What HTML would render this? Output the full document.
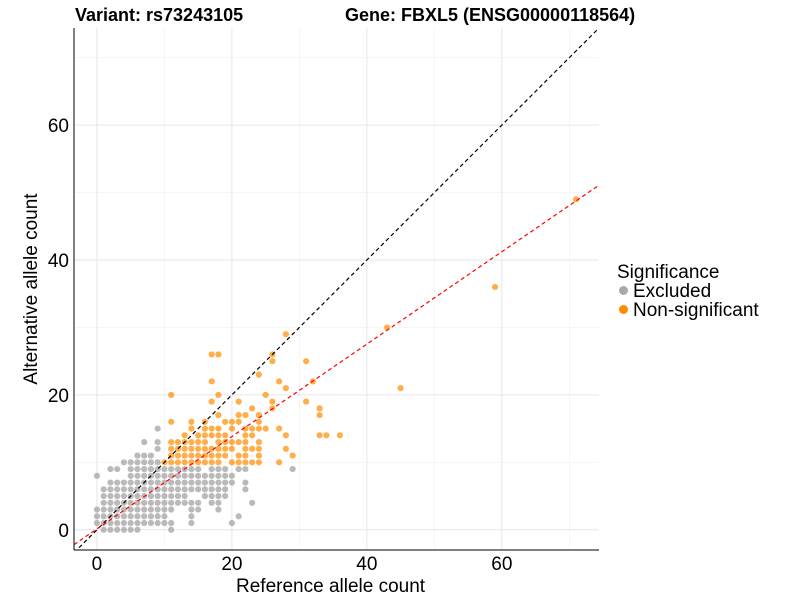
<!DOCTYPE html>
<html><head><meta charset="utf-8"><style>
body{margin:0;background:#fff;font-family:"Liberation Sans",sans-serif}
svg{display:block}
</style></head><body>
<svg id="c" width="800" height="600"></svg>
<script>
const xTicks=[0,20,40,60];
const yTicks=[0,20,40,60];
const minorTicks=[10,30,50,70];
// gray (excluded) points: rows of [y, [x values]]
const grayRows=[
[0,[1,2,3,4,5,6,11]],
[1,[0,1,2,3,4,5,6,7,8,9,10,11,14,20]],
[2,[0,1,2,3,4,5,6,7,8,9,10,14,21]],
[3,[0,1,2,3,4,5,6,7,8,9,10,11,14,15,18]],
[4,[1,2,3,4,5,6,7,8,9,10,11,12,13,14,15,17,18,23]],
[5,[1,2,3,4,5,6,7,8,9,10,11,12,13,16,17,18,19]],
[6,[1,2,3,4,5,6,7,8,9,10,11,12,13,14,15,16,17,18,19,22]],
[7,[2,3,4,5,6,7,8,9,10,11,12,13,14,15,16,17,18,19,20,22]],
[8,[0,5,6,7,8,9,10,11,12,13,14,15,16,17,18,19,20]],
[9,[2,3,5,6,7,8,9,10,11,12,13,14,15,17,18,19,21,22,29]],
[10,[4,5,6,7,8,9]],
[11,[6,7,8]],
[12,[9]],
[13,[7,9]],
[15,[9]]
];
// orange (non-significant) points
const orangeRows=[
[10,[10,11,12,13,14,15,16,17,18,20,21,22,23,24,27]],
[11,[11,12,13,14,15,16,17,18,19,21,22,24,29]],
[12,[11,12,13,14,15,16,17,18,19,20,22,23,24,28]],
[13,[11,12,13,14,15,16,18,19,20,21,22,24]],
[14,[13,15,16,17,18,19,22,23,28,33,34,36]],
[15,[14,16,17,18,20,22,23,24,25,27]],
[16,[11,14,16,19,20,21,24]],
[17,[18,21,22,24,33]],
[18,[23,26,33]],
[19,[17,21,26,31]],
[20,[11,18,25]],
[21,[28,45]],
[22,[17,27,32]],
[23,[24]],
[25,[26,31]],
[26,[17,18,26]],
[29,[28]],
[30,[43]],
[36,[59]],
[49,[71]]
];
const redSlope=0.685, redIntercept=0.13;
const L=74,R=599,T=28,B=550,x0=-3.4,x1=74.4,y0=-3.0,y1=74.4;
const sx=v=>L+(v-x0)/(x1-x0)*(R-L);
const sy=v=>B-(v-y0)/(y1-y0)*(B-T);
const svg=document.getElementById('c');const NS='http://www.w3.org/2000/svg';
function mk(t,a,p){const e=document.createElementNS(NS,t);for(const k in a)e.setAttribute(k,a[k]);(p||svg).appendChild(e);return e;}
const clip=mk('clipPath',{id:'cp'});mk('rect',{x:L,y:T,width:R-L,height:B-T},clip);
minorTicks.forEach(v=>{
 const g1=mk('line',{x1:sx(v),x2:sx(v),y1:T,y2:B,stroke:'#f0f0f0','stroke-width':0.6});
 
 const g2=mk('line',{x1:L,x2:R,y1:sy(v),y2:sy(v),stroke:'#f0f0f0','stroke-width':0.6});
 
});
xTicks.forEach(v=>{
 const g=mk('line',{x1:sx(v),x2:sx(v),y1:T,y2:B,stroke:'#e6e6e6','stroke-width':1});
 
 const t=mk('text',{x:sx(v),y:B+20,'font-size':19,'text-anchor':'middle',fill:'#000'});t.textContent=v;
 
});
yTicks.forEach(v=>{
 const g=mk('line',{x1:L,x2:R,y1:sy(v),y2:sy(v),stroke:'#e6e6e6','stroke-width':1});
 
 const t=mk('text',{x:L-5,y:sy(v)+7,'font-size':19,'text-anchor':'end',fill:'#000'});t.textContent=v;
 
});
const pg=mk('g',{'clip-path':'url(#cp)'});
grayRows.forEach(([y,xs])=>xs.forEach(x=>{
 const c=mk('circle',{cx:sx(x),cy:sy(y),r:3.1,fill:'#a9a9a9','fill-opacity':0.8},pg);
 
}));
orangeRows.forEach(([y,xs])=>xs.forEach(x=>{
 const c=mk('circle',{cx:sx(x),cy:sy(y),r:3.1,fill:'#ff8c00','fill-opacity':0.7},pg);
 
}));
const dl=mk('line',{x1:sx(x0),y1:sy(x0),x2:sx(x1),y2:sy(x1),stroke:'#000','stroke-width':1.2,'stroke-dasharray':'4,3'},pg);

const rl=mk('line',{x1:sx(x0),y1:sy(redSlope*x0+redIntercept),x2:sx(x1),y2:sy(redSlope*x1+redIntercept),stroke:'#ff0000','stroke-width':1.2,'stroke-dasharray':'4,3'},pg);

const ax=mk('line',{x1:L,y1:T,x2:L,y2:B,stroke:'#000','stroke-width':1});

const ay=mk('line',{x1:L,y1:B,x2:R,y2:B,stroke:'#000','stroke-width':1});

</script>
<div style="position:absolute;left:0;top:0;width:800px;height:600px;pointer-events:none">
<div style="position:absolute;left:75px;top:5px;font-size:18px;font-weight:bold">Variant: rs73243105</div>
<div style="position:absolute;left:345px;top:5px;font-size:18px;font-weight:bold">Gene: FBXL5 (ENSG00000118564)</div>
<div style="position:absolute;left:236px;top:576px;font-size:19px">Reference allele count</div>
<div style="position:absolute;left:32px;top:289px;font-size:19px;transform:translate(-50%,-50%) rotate(-90deg);white-space:nowrap">Alternative allele count</div>
<div style="position:absolute;left:617px;top:263px;font-size:19px;line-height:19px">
<div>Significance</div>
<div style="margin-left:2px"><span style="display:inline-block;width:9px;height:9px;border-radius:50%;background:#a9a9a9;margin-right:5px;vertical-align:2px"></span>Excluded</div>
<div style="margin-left:2px"><span style="display:inline-block;width:9px;height:9px;border-radius:50%;background:#ff8c00;margin-right:5px;vertical-align:2px"></span>Non-significant</div>
</div>
</div>
</body></html>
